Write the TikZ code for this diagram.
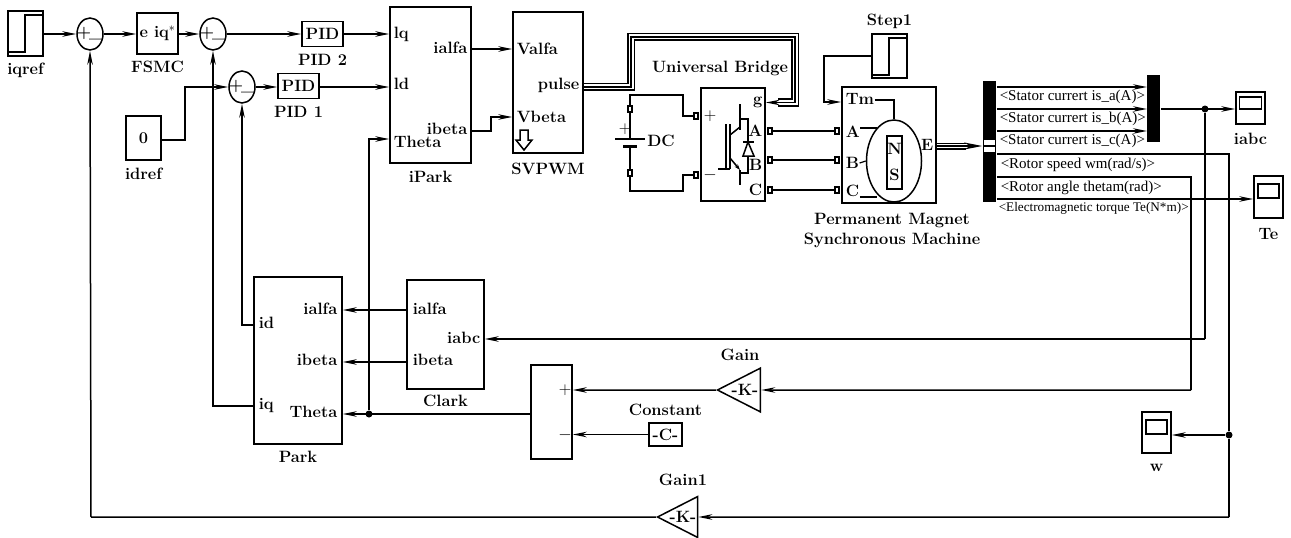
\documentclass[tikz,border=0pt]{standalone}
\usepackage{amsmath}
\usepackage{fontspec}
\newfontfamily\sigfont{Liberation Serif}
\usepackage{tikz}
\usetikzlibrary{positioning,shapes,arrows.meta}

\begin{document}
\begin{tikzpicture}[
  x=1pt, y=-1pt,
  line width=1.5pt,
  >={Stealth[length=14pt,width=5.5pt]},
  node distance=1pt,
  title/.style={font=\fontsize{16.4}{18}\selectfont\bfseries, inner sep=0pt},
  porttag/.style={title, anchor=west},
  porttagr/.style={title, anchor=east},
  sigtag/.style={font=\fontsize{15}{16}\selectfont\sigfont, inner sep=0pt, anchor=west},
  blockbox/.style={rectangle, draw, inner sep=0pt, font=\fontsize{16.4}{18}\selectfont\bfseries},
  sumnode/.style={ellipse, draw, minimum width=26pt, minimum height=32pt, inner sep=-4pt, font=\fontsize{16.4}{18}\selectfont\bfseries},
  gainbox/.style={isosceles triangle, draw, shape border rotate=180, isosceles triangle apex angle=54, inner sep=-2pt, minimum height=40pt, font=\fontsize{16.4}{18}\selectfont\bfseries},
  portbox/.style={rectangle, draw, fill=white, line width=1.2pt, minimum width=4pt, minimum height=6pt, inner sep=0pt},
  barbox/.style={rectangle, fill=black, inner sep=0pt},
  junction/.style={circle, fill=black, minimum size=7pt, inner sep=0pt},
  bus/.style={draw, line width=8.4pt, postaction={draw=white, line width=5pt}, postaction={draw=black, line width=1.7pt}},
  busthin/.style={draw, line width=7pt, postaction={draw=white, line width=4.4pt}, postaction={draw=black, line width=1.3pt}}
]
\useasboundingbox (0,0) rectangle (1291,538);

\node (iqref) [blockbox, minimum width=35pt, minimum height=45pt] at (25.5,33.5) {};
\draw (8,52) -| (25,15) -- (43,15);
\node (iqrefL) [title, below=6pt of iqref] {iqref};

\node (sumA) [sumnode] at (90,34) {+\kern-2pt\_};
\node (fsmc) [blockbox, minimum width=41pt, minimum height=41pt] at (157.5,33.5) {e iq$^*$};
\node (fsmcL) [title, below=6pt of fsmc] {FSMC};
\node (sumB) [sumnode] at (213,34) {+\kern-2pt\_};
\node (pidB) [blockbox, minimum width=41pt, minimum height=25pt] at (322.5,34) {PID};
\node (pidBL) [title, below=6pt of pidB] {PID 2};
\node (sumC) [sumnode] at (242,87) {+\kern-2pt\_};
\node (pidA) [blockbox, minimum width=41pt, minimum height=25pt] at (298.5,86) {PID};
\node (pidAL) [title, below=6pt of pidA] {PID 1};
\node (idref) [blockbox, minimum width=35pt, minimum height=44pt] at (143.5,138) {0};
\node (idrefL) [title, below=7pt of idref] {idref};

\node (ipark) [blockbox, minimum width=81pt, minimum height=156pt] at (430.5,85) {};
\node (iparkL) [title, below=7pt of ipark] {iPark};
  \node (iparkQ) [porttag] at (393,34) {lq};
  \node (iparkD) [porttag] at (393,84) {ld};
  \node (iparkT) [porttag] at (393,142) {Theta};
  \node (iparkA) [porttagr] at (468,48) {ialfa};
  \node (iparkB) [porttagr] at (468,129) {ibeta};

\node (svpwm) [blockbox, minimum width=70pt, minimum height=141pt] at (548,82.5) {};
\node (svpwmL) [title, below=9pt of svpwm] {SVPWM};
  \node (svpwmA) [porttag] at (516,49) {Valfa};
  \node (svpwmP) [porttagr] at (580,85) {pulse};
  \node (svpwmB) [porttag] at (516,117) {Vbeta};
  \draw (520,130) -- (528,130) -- (528,140) -- (532,140) -- (524,150) -- (516,140) -- (520,140) -- cycle;

\node (bridge) [blockbox, minimum width=64pt, minimum height=113pt] at (733,144.5) {};
\node (bridgeL) [title, above=11pt of bridge, xshift=-13pt] {Universal Bridge};
  \node (bridgeG) [porttagr] at (763,102) {g};
  \node (bridgeA) [porttagr] at (763,131) {A};
  \node (bridgeB) [porttagr] at (763,165) {B};
  \node (bridgeC) [porttagr] at (763,190) {C};
  \node (bridgeP) [title] at (710,116) {$+$};
  \node (bridgeM) [title] at (710,175) {$-$};
  \node (portP) [portbox] at (696,116) {};
  \node (portM) [portbox] at (696,175) {};
  \node (portA) [portbox] at (770,131) {};
  \node (portB) [portbox] at (770,160) {};
  \node (portC) [portbox] at (770,190) {};
  \draw (740,104) -- (740,130);
  \draw (726,124) -- (726,169);
  \draw (730,124) -- (730,169);
  \draw (730,135) -- (740,127);
  \draw (718,169) -- (730,169);
  \draw[-{Stealth[length=6pt,width=4pt]}] (730,158) -- (740,170);
  \draw (740,170) -- (740,185);
  \draw (740,119) -- (748,119) -- (748,173) -- (740,173);
  \draw (743,142) -- (754,142);
  \draw[fill=white] (748,142) -- (743,156) -- (754,156) -- cycle;

\node (dcT) [portbox] at (630,109) {};
\node (dcB) [portbox] at (630,173) {};
\node (dcL) [title] at (661,141) {DC};
\node (dcP) [title] at (625,129) {$+$};
\coordinate (plateA) at (630,139);
\coordinate (plateB) at (630,146);
\draw (615,139) -- (645,139);
\draw[line width=3pt] (623,146) -- (637,146);

\node (pmsm) [blockbox, minimum width=94pt, minimum height=116pt] at (889,145) {};
\node (pmsmL) [title, below=9pt of pmsm, xshift=3pt, align=center] {Permanent Magnet\\[2pt]Synchronous Machine};
  \node (rotor) [ellipse, draw, minimum width=55pt, minimum height=82pt, inner sep=0pt] at (894,161) {};
  \node (magnet) [rectangle, draw, minimum width=15pt, minimum height=53pt, inner sep=0pt] at (894.5,162.5) {};
  \node (magnetN) [title] at (894.5,149) {N};
  \node (magnetS) [title] at (894.5,175) {S};
  \node (pmsmT) [porttag] at (845,99) {Tm};
  \node (pmsmA) [porttag] at (845,132) {A};
  \node (pmsmB) [porttag] at (845,163) {B};
  \node (pmsmC) [porttag] at (845,191) {C};
  \node (pmsmE) [porttagr] at (934,145) {E};
  \node (machA) [portbox] at (837,131) {};
  \node (machB) [portbox] at (837,160) {};
  \node (machC) [portbox] at (837,190) {};
  \draw[line width=1.2pt] (pmsmT.east |- 0,100) -- (894,100) -- (rotor.north);
  \draw[line width=1.2pt] (pmsmA.east |- 0,128) -- (877,128);
  \draw[line width=1.2pt] (pmsmB.east |- 0,163) -- (rotor.west);
  \draw[line width=1.2pt] (pmsmC.east |- 0,197) -- (877,197);

\node (step) [blockbox, minimum width=35pt, minimum height=44pt] at (889.5,56) {};
\node (stepL) [title, above=4pt of step] {Step1};
\draw (872,75) -| (889,38) -- (907,38);

\node (demux) [barbox, minimum width=13pt, minimum height=121pt] at (989.5,141.5) {};
\node (demuxS) [rectangle, fill=white, minimum width=11pt, minimum height=12pt, inner sep=0pt] at (989.5,146) {};
\draw (demuxS.west) -- (demuxS.east);
\node (mux) [barbox, minimum width=13pt, minimum height=67pt] at (1153.5,108.5) {};
\coordinate (isa) at (1147,87);
\coordinate (isb) at (1147,109);
\coordinate (isc) at (1147,131);
\node (sigA) [sigtag] at (999,97) {<Stator currert is\_a(A)>};
\node (sigB) [sigtag] at (999,119) {<Stator currert is\_b(A)>};
\node (sigC) [sigtag] at (999,141) {<Stator currert is\_c(A)>};
\node (sigW) [sigtag] at (1000,165) {<Rotor speed wm(rad/s)>};
\node (sigT) [sigtag] at (1000,188) {<Rotor angle thetam(rad)>};
\node (sigE) [sigtag, font=\fontsize{13.2}{14}\selectfont\sigfont] at (998,208) {<Electromagnetic torque Te(N*m)>};

\node (iabc) [blockbox, minimum width=29pt, minimum height=32pt] at (1250.5,108) {};
\node (iabcS) [rectangle, draw, minimum width=22pt, minimum height=12pt, inner sep=0pt] at (1250.5,103) {};
\node (iabcL) [title, below=8pt of iabc] {iabc};
\node (te) [blockbox, minimum width=29pt, minimum height=42pt] at (1268.5,197) {};
\node (teS) [rectangle, draw, minimum width=21pt, minimum height=14pt, inner sep=0pt] at (1268.5,191) {};
\node (teL) [title, below=9pt of te] {Te};
\node (wscope) [blockbox, minimum width=29pt, minimum height=41pt] at (1156.5,432.5) {};
\node (wscopeS) [rectangle, draw, minimum width=21pt, minimum height=14pt, inner sep=0pt] at (1156.5,427) {};
\node (wscopeL) [title, below=10pt of wscope] {w};

\node (park) [blockbox, minimum width=88pt, minimum height=167pt] at (298,360.5) {};
\node (parkL) [title, below=6pt of park] {Park};
  \node (parkD) [porttag] at (258,323) {id};
  \node (parkQ) [porttag] at (258,406) {iq};
  \node (parkA) [porttagr] at (338,309) {ialfa};
  \node (parkB) [porttagr] at (338,360) {ibeta};
  \node (parkT) [porttagr] at (338,412) {Theta};

\node (clark) [blockbox, minimum width=77pt, minimum height=109pt] at (445.5,334.5) {};
\node (clarkL) [title, below=5pt of clark] {Clark};
  \node (clarkA) [porttag] at (412,309) {ialfa};
  \node (clarkB) [porttag] at (412,360) {ibeta};
  \node (clarkI) [porttagr] at (481,338) {iabc};

\node (diff) [blockbox, minimum width=41pt, minimum height=94pt] at (551.5,412) {};
\node (diffP) [title] at (565,390) {$+$};
\node (diffM) [title] at (565,435) {$-$};
\node (const) [blockbox, minimum width=33pt, minimum height=23pt] at (665.5,434.5) {-C-};
\node (constL) [title, above=6pt of const] {Constant};
\node (gainA) [gainbox, minimum height=43pt] at (745,390) {-K-};
\node (gainAL) [title, above=14pt of gainA, xshift=-5pt] {Gain};
\node (gainB) [gainbox] at (683,517) {-K-};
\node (gainBL) [title, above=17pt of gainB] {Gain1};

\node (dotI) [junction] at (1205,109) {};
\node (dotW) [junction] at (1229,435) {};
\node (dotT) [junction] at (369,414) {};

\draw[->] (iqref.east |- sumA) -- (sumA.west);
\draw[->] (sumA.east) -- (fsmc.west |- sumA);
\draw[->] (fsmc.east |- sumB) -- (sumB.west);
\draw[->] (sumB.east) -- (pidB.west |- sumB);
\draw[->] (pidB.east) -- (ipark.west |- pidB);
\draw[->] (sumC.east) -- (pidA.west |- sumC);
\draw[->] (pidA.east |- sumC) -- (ipark.west |- sumC);
\draw[->] (idref.east |- 0,140) -| (185,87) -- (sumC.west);

\draw[->] (ipark.east |- 0,49) -- (svpwm.west |- 0,49);
\draw[->] (ipark.east |- 0,131) -| (491,117) -- (svpwm.west |- 0,117);
\draw[bus] (svpwm.east |- 0,86.7) -- (631,86.7) -- (631,36.7) -- (795,36.7) -- (795,102.5) -- (778,102.5);
\draw[->] (782,102.5) -- (bridge.east |- 0,102.5);

\draw (portP.west) -- (683,116) -- (683,95) -- (630,95) -- (dcT.north);
\draw (portM.west) -- (683,175) -- (683,191) -- (630,191) -- (dcB.south);
\draw (dcT.south) -- (plateA);
\draw (plateB) -- (dcB.north);
\draw (portA.east) -- (machA.west);
\draw (portB.east) -- (machB.west);
\draw (portC.east) -- (machC.west);
\draw[->] (step.west) -- (824,56) -- (824,102) -- (pmsm.west |- 0,102);

\draw[busthin] (pmsm.east |- 0,146) -- (966,146);
\draw[-{Stealth[length=18pt,width=7pt]}] (962,146) -- (demux.west |- 0,146);
\draw[->] (isa -| demux.east) -- (isa);
\draw[->] (isb -| demux.east) -- (isb);
\draw[->] (isc -| demux.east) -- (isc);
\draw[->] (mux.east |- isb) -- (iabc.west |- isb);
\draw (dotI) -- (1205,339);
\draw[->] (1205,339) -- (clark.east |- 0,339);
\draw (demux.east |- 0,154) -| (dotW);
\draw (demux.east |- 0,177) -| (1191,390);
\draw[->] (1191,390) -- (gainA.east);
\draw[->] (demux.east |- 0,199) -- (te.west |- 0,199);
\draw[->] (dotW) -- (wscope.east |- dotW);
\draw (dotW) -- (1229,517);
\draw[->] (1229,517) -- (gainB.east);
\draw (gainB.west) -- (91,517);
\draw[->] (91,517) -- (sumA.south);
\draw[->] (gainA.west) -- (diff.east |- gainA);
\draw[->] (const.west) -- (diff.east |- const);
\draw[->] (diff.west |- dotT) -- (park.east |- dotT);
\draw[->] (dotT) -- (369,139) -- (ipark.west |- 0,139);
\draw[->] (clark.west |- 0,310) -- (park.east |- 0,310);
\draw[->] (clark.west |- 0,362) -- (park.east |- 0,362);
\draw[->] (park.west |- 0,325) -| (sumC.south);
\draw[->] (park.west |- 0,406) -| (sumB.south);

\end{tikzpicture}
\end{document}
